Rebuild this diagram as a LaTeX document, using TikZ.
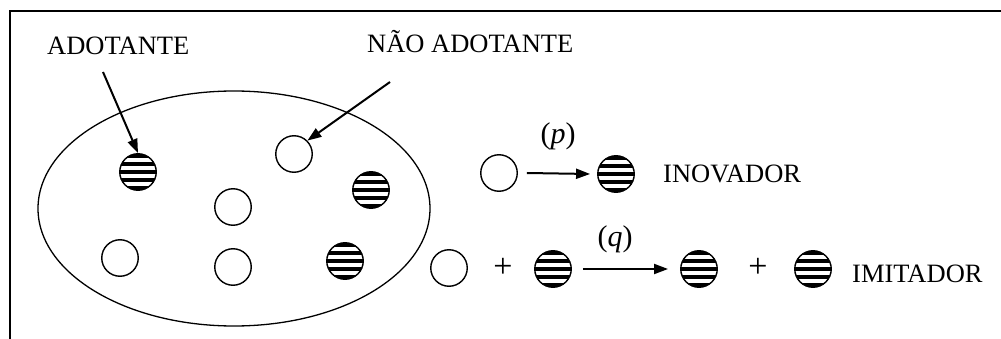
\documentclass[tikz,border=0pt]{standalone}
\usepackage{fontspec}
\setmainfont{Liberation Serif}
\usetikzlibrary{arrows.meta,shapes.geometric}
\begin{document}
\begin{tikzpicture}[x=1pt,y=-1pt,
  agent/.style={circle,draw,line width=1.4pt,minimum size=36.5pt,inner sep=0pt},
  adopter/.style={agent,path picture={
    \foreach \yy in {-15.6,-7.8,0,7.8,15.6}
      \draw[line width=4.1pt] ([yshift=\yy pt]path picture bounding box.west) -- ([yshift=\yy pt]path picture bounding box.east);}},
  lbl/.style={font=\fontsize{26.5}{30}\selectfont,inner sep=0pt,anchor=base west},
  plus/.style={font=\fontsize{34}{36}\selectfont,inner sep=0pt},
  rate/.style={font=\fontsize{30}{32}\selectfont,inner sep=0pt},
  arr/.style={line width=2pt,-{Triangle[length=14pt,width=10pt]}}]
\useasboundingbox (0,0) rectangle (1001,339);
% frame
\coordinate (fr1) at (1001,11);
\coordinate (fr2) at (10,11);
\coordinate (fr3) at (10,339);
\draw[line width=2pt] (fr1) -- (fr2) -- (fr3);
% population ellipse
\node[draw,line width=1.3pt,ellipse,minimum width=392pt,minimum height=235pt,inner sep=0pt] (pop) at (234,208.5) {};
% agents in population
\node[adopter] (h1) at (138,172) {};
\node[agent] (o1) at (294,154) {};
\node[adopter] (h2) at (371,190) {};
\node[agent] (o2) at (233,207) {};
\node[agent] (o3) at (120,258) {};
\node[agent] (o4) at (233,267) {};
\node[adopter] (h3) at (345,261) {};
% labels
\node[lbl] (tadot) at (47,55) {ADOTANTE};
\node[lbl] (tnao) at (367,53) {NÃO ADOTANTE};
\coordinate (s1) at (103,72);
\coordinate (s2) at (390,82);
\draw[arr] (s1) -- (h1.north);
\draw[arr] (s2) -- (o1.45);
% innovator row
\node[agent] (o9) at (499,173) {};
\node[adopter] (h9) at (616,174) {};
\draw[arr] ([xshift=9pt]o9.east) -- ([xshift=-7pt]h9.west);
\node[rate] (p) at (558,136) {(\textit{p})};
\node[lbl] (tino) at (663,183) {INOVADOR};
% imitator row
\node[agent] (o10) at (449,268) {};
\node[plus] (pl1) at (503,268) {+};
\node[adopter] (h10) at (553,269) {};
\node[adopter] (h11) at (699,269) {};
\draw[arr] ([xshift=11pt]h10.east) -- ([xshift=-12pt]h11.west);
\node[rate] (q) at (615,239) {(\textit{q})};
\node[plus] (pl2) at (758,268) {+};
\node[adopter] (h12) at (813,269) {};
\node[lbl] (timi) at (852,282) {IMITADOR};
\end{tikzpicture}
\end{document}
